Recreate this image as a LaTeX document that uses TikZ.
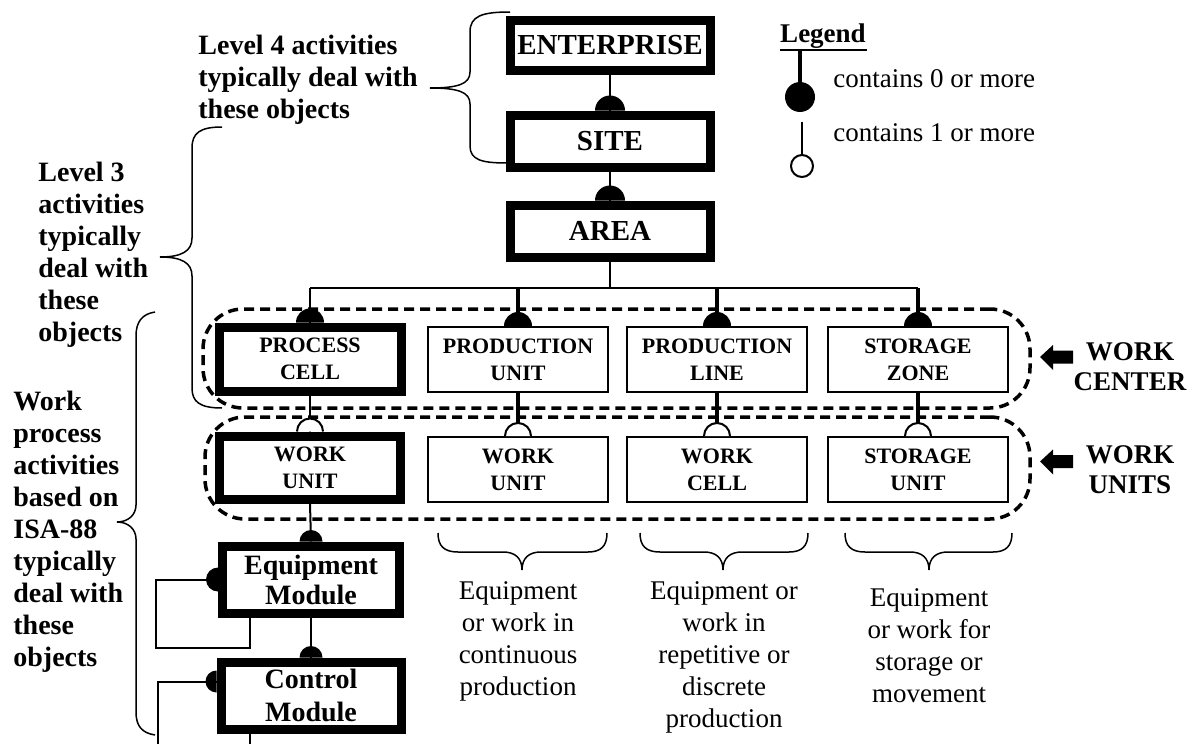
\documentclass[tikz,border=0pt]{standalone}
\usepackage{fontspec}
\setmainfont{Liberation Serif}
\newcommand\isadomeup[2]{\fill (#1) ++(-#2,0pt) arc[start angle=180,end angle=0,radius=#2] -- cycle;}
\newcommand\isaodomeup[2]{\filldraw[fill=white,line width=1pt] (#1) ++(-#2,0pt) arc[start angle=180,end angle=0,radius=#2];}
\newcommand\isadomeleft[2]{\fill (#1) ++(0pt,#2) arc[start angle=90,end angle=270,radius=#2] -- cycle;}
\begin{document}
\begin{tikzpicture}[x=0.5pt,y=-0.5pt,
  thickbox/.style={draw, line width=4.5pt, inner sep=0pt, align=center},
  thinbox/.style={draw, line width=1pt, inner sep=0pt, align=center, minimum width=90pt, minimum height=32.5pt, font=\bfseries\fontsize{11}{13.5}\selectfont},
  bigbf/.style={font=\bfseries\fontsize{14.5}{16}\selectfont},
  legbf/.style={font=\bfseries\fontsize{13.5}{16}\selectfont},
  smallbf/.style={font=\bfseries\fontsize{11}{13.5}\selectfont},
  lefttext/.style={font=\bfseries\fontsize{14}{16}\selectfont, align=left, anchor=west, inner sep=0pt},
  desctext/.style={font=\fontsize{13.5}{16}\selectfont, align=center, inner sep=0pt},
  region/.style={draw, line width=1.75pt, dash pattern=on 5pt off 3pt, rounded corners=20pt, inner sep=0pt},
  conn/.style={line width=1pt},
  thickconn/.style={line width=2.25pt},
  bracel/.style={line width=0.75pt}
]
\fill[white] (0,0) rectangle (1196,744);
\useasboundingbox (0,0) rectangle (1196,744);

% dashed regions
\node[region, minimum width=413.5pt, minimum height=49.5pt] (wcreg) at (616.5,358.5) {};
\node[region, minimum width=412.5pt, minimum height=51pt] (wureg) at (617.5,468) {};

% top hierarchy
\node[thickbox, bigbf, minimum width=100pt, minimum height=25pt] (ent) at (610,45) {ENTERPRISE};
\node[thickbox, bigbf, minimum width=100pt, minimum height=26pt] (site) at (610,141) {SITE};
\node[thickbox, bigbf, minimum width=100pt, minimum height=26pt] (area) at (610,231) {AREA};

% work centers
\node[thickbox, smallbf, minimum width=91pt, minimum height=32pt] (pc) at (310,359) {PROCESS\\CELL};
\node[thinbox] (pu) at (518,359.5) {PRODUCTION\\UNIT};
\node[thinbox] (pl) at (717,359.5) {PRODUCTION\\LINE};
\node[thinbox] (sz) at (918,359.5) {STORAGE\\ZONE};

% work units
\node[thickbox, smallbf, minimum width=90.5pt, minimum height=31.5pt] (wu1) at (310,467.5) {WORK\\UNIT};
\node[thinbox] (wu2) at (518,469.5) {WORK\\UNIT};
\node[thinbox] (wc) at (717,469.5) {WORK\\CELL};
\node[thinbox] (su) at (918,469.5) {STORAGE\\UNIT};

% modules
\node[thickbox, font=\bfseries\fontsize{14}{15}\selectfont, minimum width=88.5pt, minimum height=33.5pt] (em) at (311,579.5) {Equipment\\Module};
\node[thickbox, font=\bfseries\fontsize{14}{16.5}\selectfont, minimum width=90pt, minimum height=33.5pt] (cm) at (311,695.5) {Control\\Module};

% connectors top
\draw[conn] (ent.south) -- (site.north);
\isadomeup{site.north}{7.5pt}
\draw[conn] (site.south) -- (area.north);
\isadomeup{area.north}{7.5pt}

\coordinate (bus) at (610,288);
\draw[conn] (area.south) -- (bus);
\draw[conn] (pc.north |- bus) -- (sz.north |- bus);
\draw[conn] (pc.north |- bus) -- (pc.north);
\draw[thickconn] (pu.north |- bus) -- (pu.north);
\draw[thickconn] (pl.north |- bus) -- (pl.north);
\draw[thickconn] (sz.north |- bus) -- (sz.north);
\isadomeup{pc.north}{7pt}
\isadomeup{pu.north}{7pt}
\isadomeup{pl.north}{7pt}
\isadomeup{sz.north}{7pt}

% work center -> work unit
\draw[conn] (pc.south) -- (wu1.north);
\draw[thickconn] (pu.south) -- (wu2.north);
\draw[thickconn] (pl.south) -- (wc.north);
\draw[thickconn] (sz.south) -- (su.north);
\isaodomeup{wu1.north}{6.5pt}
\isaodomeup{wu2.north}{6.5pt}
\isaodomeup{wc.north}{6.5pt}
\isaodomeup{su.north}{6.5pt}

% work unit -> modules
\draw[conn] (wu1.south) -- (em.north);
\isadomeup{em.north}{5.75pt}
\draw[conn] (em.south) -- (cm.north);
\isadomeup{cm.north}{5.75pt}

% equipment module self loop
\coordinate (emloopA) at (250,648);
\coordinate (emloopB) at (156,648);
\coordinate (emlb) at (em.south -| emloopA);
\draw[conn] (emlb) |- (emloopB) |- (em.west);
\isadomeleft{em.west}{6pt}

% control module loop (runs off the bottom)
\coordinate (cmin) at ([yshift=7pt]cm.west);
\coordinate (cmfarL) at (158,770);
\coordinate (cmbotR) at (250,770);
\draw[conn] (cmin) -| (cmfarL);
\draw[conn] (cm.south -| cmbotR) -- (cmbotR);
\isadomeleft{cmin}{5.5pt}

% legend
\node[legbf, inner sep=0pt] (legt) at (823,36) {Legend};
\coordinate (lul) at (780,50);
\coordinate (lur) at (867,50);
\draw[line width=1.25pt] (lul) -- (lur);
\coordinate (l0top) at (800,50);
\node[circle, fill, inner sep=0pt, minimum size=15pt] (l0c) at (800,97) {};
\draw[line width=2pt] (l0top) -- (l0c);
\node[desctext, anchor=west] (l0t) at (833,79) {contains 0 or more};
\coordinate (l1top) at (802,122);
\node[circle, draw, line width=1pt, fill=white, inner sep=0pt, minimum size=11pt] (l1c) at (802,166) {};
\draw[line width=1pt] (l1top) -- (l1c);
\node[desctext, anchor=west] (l1t) at (833,133) {contains 1 or more};

% left texts
\node[lefttext] (l4) at (198,80) {Level 4 activities\\typically deal with\\these objects};
\node[lefttext] (l3) at (38,255) {Level 3\\activities\\typically\\deal with\\these\\objects};
\node[lefttext] (wp) at (13,532) {Work\\process\\activities\\based on\\ISA-88\\typically\\deal with\\these\\objects};

% braces
\draw[bracel] (510,12) .. controls (482,12) and (470,16) .. (470,32) -- (470,72) .. controls (470,84) and (458,88) .. (430,88) .. controls (458,88) and (470,92) .. (470,104) -- (470,146) .. controls (470,160) and (482,163) .. (507,163);
\draw[bracel] (222,127) .. controls (200,127) and (192,133) .. (192,148) -- (192,238) .. controls (192,251) and (182,257) .. (160,257) .. controls (182,257) and (192,263) .. (192,276) -- (192,388) .. controls (192,402) and (200,408) .. (222,408);
\draw[bracel] (155,312) .. controls (142,314) and (136,322) .. (136,336) -- (136,505) .. controls (136,515) and (128,522) .. (117,522) .. controls (128,522) and (136,529) .. (136,539) -- (136,712) .. controls (136,726) and (142,733) .. (155,735);

\draw[bracel] (438,533) .. controls (438,546) and (444,552) .. (458,552) -- (503,552) .. controls (515,552) and (522,558) .. (522,570) .. controls (522,558) and (529,552) .. (541,552) -- (588,552) .. controls (601,552) and (607,546) .. (607,533);
\draw[bracel] (640,533) .. controls (640,546) and (646,552) .. (660,552) -- (704,552) .. controls (716,552) and (723,558) .. (723,570) .. controls (723,558) and (730,552) .. (742,552) -- (789,552) .. controls (802,552) and (808,546) .. (808,533);
\draw[bracel] (845,533) .. controls (845,546) and (851,552) .. (865,552) -- (910,552) .. controls (922,552) and (929,558) .. (929,570) .. controls (929,558) and (936,552) .. (948,552) -- (993,552) .. controls (1006,552) and (1012,546) .. (1012,533);

% descriptions
\node[desctext] (d1) at (518,641) {Equipment\\or work in\\continuous\\production};
\node[desctext] (d2) at (724,657) {Equipment or\\work in\\repetitive or\\discrete\\production};
\node[desctext] (d3) at (929,646) {Equipment\\or work for\\storage or\\movement};

% work center / work units labels and arrows
\node[font=\bfseries\fontsize{13.5}{15}\selectfont, align=center, inner sep=0pt] (wclab) at (1130,367) {WORK\\CENTER};
\node[font=\bfseries\fontsize{13.5}{15}\selectfont, align=center, inner sep=0pt] (wulab) at (1130,470) {WORK\\UNITS};
\fill (1040,357) -- (1053,345) -- (1053,350.5) -- (1073,350.5) -- (1073,363.5) -- (1053,363.5) -- (1053,370) -- cycle;
\fill (1040,461.5) -- (1053,449.5) -- (1053,455) -- (1073,455) -- (1073,468) -- (1053,468) -- (1053,474.5) -- cycle;
\end{tikzpicture}
\end{document}
